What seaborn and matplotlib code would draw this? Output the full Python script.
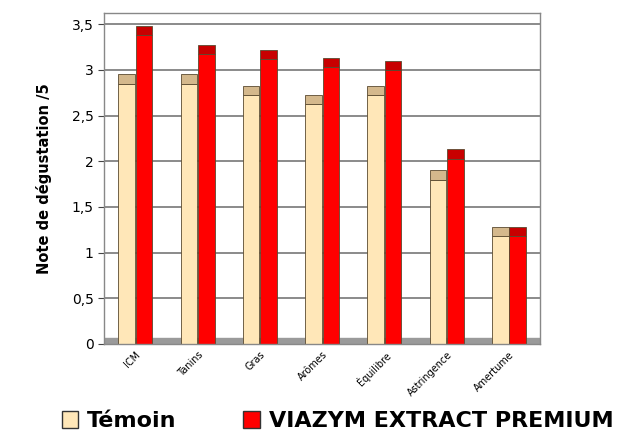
import pandas as pd
import matplotlib.pyplot as plt
import seaborn as sns
from matplotlib.patches import Patch
from matplotlib.ticker import FuncFormatter

criteres = ['ICM', 'Tanins', 'Gras', 'Arômes', 'Équilibre', 'Astringence', 'Amertume']
temoin = [2.85, 2.85, 2.72, 2.63, 2.72, 1.80, 1.18]
viazym = [3.38, 3.17, 3.12, 3.03, 3.00, 2.03, 1.18]
series = ['Témoin', 'VIAZYM EXTRACT PREMIUM']

df = pd.DataFrame({
    'Critère': criteres * 2,
    'Note': temoin + viazym,
    'Produit': [series[0]] * len(criteres) + [series[1]] * len(criteres),
})

front = {series[0]: '#FFE7B8', series[1]: '#FF0000'}
top = ['#D4B88C', '#C80000']
cap = 0.1

sns.set_style('white')
plt.rcParams['text.color'] = 'black'
plt.rcParams['axes.labelcolor'] = 'black'
plt.rcParams['xtick.color'] = 'black'
plt.rcParams['ytick.color'] = 'black'

fig = plt.figure(figsize=(6.31, 4.41), dpi=100)
ax = fig.add_axes([0.165, 0.22, 0.691, 0.75])

# grey floor
ax.axhspan(0, 0.07, color='#9A9A9A', zorder=1)
for y in [0.5, 1, 1.5, 2, 2.5, 3, 3.5]:
    ax.axhline(y, color='#777777', lw=1.2, zorder=0)

sns.barplot(data=df, x='Critère', y='Note', hue='Produit', order=criteres,
            hue_order=series, palette=front, saturation=1, width=0.56, gap=0.05,
            edgecolor='#5A4A30', linewidth=0.6, legend=False, ax=ax, zorder=2)

# darker "3D" top faces on each bar
for cont, col in zip(list(ax.containers), top):
    for p in cont:
        ax.bar(p.get_x(), cap, width=p.get_width(), bottom=p.get_height(), align='edge',
               color=col, edgecolor='#5A4A30', linewidth=0.6, zorder=3)

ax.set_xlim(-0.5, len(criteres) - 0.5)
ax.set_ylim(0, 3.62)
ax.set_yticks([0, 0.5, 1, 1.5, 2, 2.5, 3, 3.5])
ax.yaxis.set_major_formatter(FuncFormatter(lambda v, p: ('%g' % v).replace('.', ',')))
ax.tick_params(axis='y', labelsize=10, length=4, left=True, color='#444444')
ax.set_xticks(range(len(criteres)))
ax.set_xticklabels(criteres, rotation=45, ha='right', rotation_mode='anchor', fontsize=7)
ax.tick_params(axis='x', length=0, pad=4)
ax.set_xlabel('')
ax.set_ylabel('Note de dégustation /5', fontsize=10.5, fontweight='bold', labelpad=14)
for s in ax.spines.values():
    s.set_color('#888888')
    s.set_linewidth(1)

handles = [Patch(facecolor=front[s], edgecolor='#333333', label=s) for s in series]
fig.legend(handles=handles, loc='center', bbox_to_anchor=(0.535, 0.045), ncol=2,
           frameon=False, columnspacing=3.0, handlelength=0.75, handleheight=0.75,
           handletextpad=0.4, prop={'weight': 'bold', 'size': 16})

fig.savefig('out.png', dpi=100)
